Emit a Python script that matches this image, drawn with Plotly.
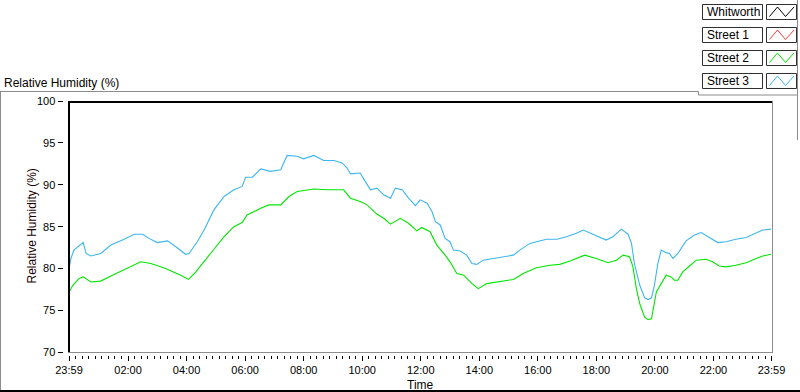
import plotly.graph_objects as go

# ---------------- data ----------------
series_names = ["Whitworth", "Street 1", "Street 2", "Street 3"]
series_colors = ["#000000", "#ff3a3a", "#00e600", "#3cb6f0"]

street3_time = ["23:59", "00:03", "00:09", "00:24", "00:28", "00:34", "00:44", "01:04", "01:25", "01:52",
                "02:13", "02:30", "02:43", "03:00", "03:21", "03:38", "03:58", "04:05", "04:22", "04:36",
                "04:56", "05:17", "05:37", "05:54", "06:01", "06:15", "06:32", "06:52", "07:13", "07:26",
                "07:47", "08:00", "08:21", "08:41", "09:02", "09:19", "09:29", "09:36", "09:56", "10:03",
                "10:17", "10:30", "10:44", "10:58", "11:08", "11:22", "11:35", "11:49", "11:59", "12:13",
                "12:23", "12:30", "12:40", "12:50", "13:00", "13:07", "13:21", "13:34", "13:45", "13:55",
                "14:08", "14:29", "14:49", "15:10", "15:23", "15:44", "15:57", "16:18", "16:39", "16:59",
                "17:19", "17:33", "17:53", "18:20", "18:34", "18:51", "19:05", "19:12", "19:18", "19:29",
                "19:39", "19:46", "19:53", "19:59", "20:06", "20:13", "20:23", "20:30", "20:37", "20:47",
                "21:04", "21:21", "21:35", "21:52", "22:09", "22:26", "22:46", "23:07", "23:27", "23:41",
                "23:58"]
street3_rh = [80.0, 81.2, 82.2, 82.9, 83.1, 81.8, 81.5, 81.8, 82.8, 83.5,
              84.1, 84.1, 83.6, 83.1, 83.3, 82.6, 81.7, 81.8, 83.2, 84.6,
              87.0, 88.6, 89.4, 89.8, 90.9, 90.9, 91.9, 91.6, 91.8, 93.5,
              93.4, 93.1, 93.5, 92.9, 92.9, 92.6, 92.0, 91.3, 91.4, 90.7,
              89.4, 89.6, 88.8, 88.4, 89.6, 89.4, 88.4, 87.5, 88.2, 87.8,
              86.8, 85.6, 85.2, 83.6, 83.2, 82.2, 82.1, 81.6, 80.6, 80.5,
              81.0, 81.2, 81.4, 81.6, 82.2, 83.0, 83.2, 83.5, 83.5, 83.8,
              84.2, 84.6, 84.1, 83.4, 83.8, 84.7, 84.1, 83.0, 80.6, 78.0,
              76.5, 76.3, 76.5, 78.0, 80.6, 82.2, 81.9, 81.8, 81.2, 81.8,
              83.3, 84.0, 84.3, 83.7, 83.1, 83.2, 83.5, 83.7, 84.2, 84.6,
              84.7]

street2_time = ["23:59", "00:07", "00:19", "00:28", "00:44", "01:04", "01:25", "01:56", "02:26", "02:47",
                "03:17", "03:48", "04:04", "04:19", "04:39", "04:56", "05:17", "05:37", "05:54", "06:04",
                "06:32", "06:49", "07:13", "07:30", "07:47", "08:21", "08:48", "09:22", "09:36", "09:56",
                "10:10", "10:30", "10:44", "10:58", "11:18", "11:35", "11:52", "12:02", "12:19", "12:33",
                "12:50", "13:00", "13:14", "13:28", "13:45", "13:58", "14:15", "14:43", "15:10", "15:30",
                "15:57", "16:25", "16:45", "17:06", "17:36", "18:00", "18:24", "18:41", "18:55", "19:08",
                "19:15", "19:22", "19:29", "19:39", "19:46", "19:53", "19:57", "20:03", "20:13", "20:23",
                "20:33", "20:40", "20:47", "20:57", "21:11", "21:25", "21:45", "21:58", "22:12", "22:26",
                "22:46", "23:07", "23:24", "23:41", "23:58"]
street2_rh = [77.2, 78.0, 78.8, 79.0, 78.4, 78.5, 79.1, 80.0, 80.8, 80.6,
              80.0, 79.2, 78.7, 79.6, 81.0, 82.3, 83.8, 85.0, 85.5, 86.4,
              87.2, 87.6, 87.6, 88.6, 89.2, 89.5, 89.4, 89.4, 88.4, 88.0,
              87.6, 86.5, 86.0, 85.3, 86.0, 85.4, 84.5, 84.9, 84.4, 82.8,
              81.6, 80.8, 79.4, 79.2, 78.2, 77.6, 78.2, 78.5, 78.7, 79.4,
              80.1, 80.4, 80.5, 80.9, 81.6, 81.2, 80.7, 81.0, 81.6, 81.4,
              80.2, 77.6, 75.8, 74.2, 73.9, 74.0, 75.5, 77.2, 78.2, 79.2,
              79.0, 78.6, 78.6, 79.6, 80.3, 81.0, 81.1, 80.8, 80.3, 80.2,
              80.4, 80.7, 81.1, 81.5, 81.7]

x_tick_labels = ["23:59", "02:00", "04:00", "06:00", "08:00", "10:00", "12:00",
                 "14:00", "16:00", "18:00", "20:00", "22:00", "23:59"]
y_tick_values = [70, 75, 80, 85, 90, 95, 100]

# ---------------- geometry helpers ----------------
W, H = 800, 392
ML, MR, MT, MB = 50, 28, 101, 30
PW = W - ML - MR
PH = H - MT - MB


def px(x):
    return (x - ML) / PW


def py(y):
    return (H - MB - y) / PH


def minutes(t):
    h, m = t.split(":")
    return (int(h) * 60 + int(m) - 1439) % 1440


x_tick_vals = [minutes(t) for t in x_tick_labels]
x_tick_vals[-1] = 1440
minor_vals = []
for a, b in zip(x_tick_vals[:-1], x_tick_vals[1:]):
    minor_vals += [a + (b - a) * k / 9 for k in range(1, 9)]

FONT = "Liberation Sans"

fig = go.Figure()
fig.add_trace(go.Scatter(x=[minutes(t) for t in street2_time], y=street2_rh, mode="lines",
                         line=dict(color=series_colors[2], width=1.1), name=series_names[2],
                         showlegend=False, hoverinfo="skip"))
fig.add_trace(go.Scatter(x=[minutes(t) for t in street3_time], y=street3_rh, mode="lines",
                         line=dict(color=series_colors[3], width=1.1), name=series_names[3],
                         showlegend=False, hoverinfo="skip"))

fig.update_layout(
    width=W, height=H,
    margin=dict(l=ML, r=MR, t=MT, b=MB, autoexpand=False),
    paper_bgcolor="white", plot_bgcolor="white",
    font=dict(family=FONT, size=12, color="black"),
    xaxis=dict(range=[0, 1440], domain=[px(69), px(771.5)], anchor="free", position=py(355),
               tickmode="array", tickvals=x_tick_vals, ticktext=x_tick_labels,
               ticks="outside", ticklen=5, tickwidth=1, tickcolor="black",
               minor=dict(tickmode="array", tickvals=minor_vals, ticks="outside", ticklen=3,
                          tickwidth=1, tickcolor="black"),
               showline=False, showgrid=False, zeroline=False, automargin=False,
               tickfont=dict(family=FONT, size=11, color="black")),
    yaxis=dict(range=[70, 100], domain=[py(352.3), py(101)], anchor="free", position=px(62.5),
               tickmode="array", tickvals=y_tick_values,
               ticks="outside", ticklen=5, tickwidth=1, tickcolor="black",
               showline=False, showgrid=False, zeroline=False, automargin=False,
               tickfont=dict(family=FONT, size=11, color="black")),
)

shapes = []


def hline(x0, x1, y, color, w=1):
    shapes.append(dict(type="line", xref="paper", yref="paper", x0=px(x0), x1=px(x1),
                       y0=py(y), y1=py(y), line=dict(color=color, width=w)))


def vline(x, y0, y1, color, w=1):
    shapes.append(dict(type="line", xref="paper", yref="paper", x0=px(x), x1=px(x),
                       y0=py(y0), y1=py(y1), line=dict(color=color, width=w)))


GRAY = "#8c8c8c"
# plot frame
hline(68, 772, 102, "black", 2)
vline(69, 101, 352.5, "black", 2)
vline(772.5, 101, 353, GRAY, 1)
hline(68, 773, 352.5, GRAY, 1)
# outer frame
hline(0, 698.5, 91.5, GRAY, 1)
vline(0.5, 91.5, 392, GRAY, 1)
hline(0, 800, 391, "black", 2)
vline(698.5, 91.5, 95, GRAY, 1)
hline(698.5, 798, 95, GRAY, 1)
vline(797.5, 0, 140, GRAY, 1)

annotations = []
row_tops = [4.5, 27.5, 50.5, 73.5]
for name, col, top in zip(series_names, series_colors, row_tops):
    shapes.append(dict(type="rect", xref="paper", yref="paper", x0=px(702.5), x1=px(762.5),
                       y0=py(top), y1=py(top + 15), line=dict(color="#303030", width=1),
                       fillcolor="white"))
    shapes.append(dict(type="rect", xref="paper", yref="paper", x0=px(766.5), x1=px(796.5),
                       y0=py(top), y1=py(top + 15), line=dict(color="#303030", width=1),
                       fillcolor="white"))
    pts = [(769.5, top + 12), (777.5, top + 2.5), (785.5, top + 12), (794, top + 2.5)]
    path = "M " + " L ".join(f"{px(a):.5f},{py(b):.5f}" for a, b in pts)
    shapes.append(dict(type="path", xref="paper", yref="paper", path=path,
                       line=dict(color=col, width=1)))
    annotations.append(dict(text=name, xref="paper", yref="paper", x=px(705), y=py(top + 7.5),
                            xanchor="left", yanchor="middle", showarrow=False,
                            font=dict(family=FONT, size=12, color="black")))

annotations.append(dict(text="Relative Humidity (%)", xref="paper", yref="paper", x=px(2),
                        y=py(83), xanchor="left", yanchor="middle", showarrow=False,
                        font=dict(family=FONT, size=12, color="black")))
annotations.append(dict(text="Relative Humidity (%)", xref="paper", yref="paper", x=px(31.5),
                        y=py(226), xanchor="center", yanchor="middle", textangle=-90,
                        showarrow=False, font=dict(family=FONT, size=12, color="#1a0000")))
annotations.append(dict(text="Time", xref="paper", yref="paper", x=px(420), y=py(384.5),
                        xanchor="center", yanchor="middle", showarrow=False,
                        font=dict(family=FONT, size=12, color="black")))

fig.update_layout(shapes=shapes, annotations=annotations, hovermode=False)
fig.write_html("out.html", config={"displayModeBar": False, "staticPlot": True},
               post_script="document.body.style.margin='0';document.body.style.overflow='hidden';")
